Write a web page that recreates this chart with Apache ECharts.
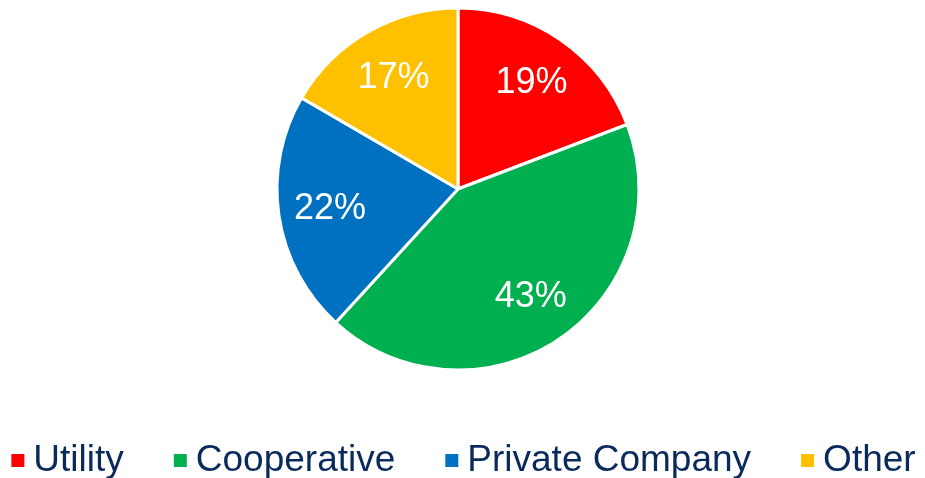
<!DOCTYPE html>
<html>
<head>
<meta charset="utf-8">
<script src="https://cdn.jsdelivr.net/npm/echarts@6/dist/echarts.min.js"></script>
<style>
  html, body { margin: 0; padding: 0; background: #fff; }
  #chart { width: 925px; height: 478px; }
</style>
</head>
<body>
<div id="chart"></div>
<script>
  // owner type shares (%)
  var categories = ['Utility', 'Cooperative', 'Private Company', 'Other'];
  var shares = [19.2, 42.6, 21.6, 16.6];
  var colors = ['#FF0000', '#00B050', '#0070C0', '#FFC000'];

  var chart = echarts.init(document.getElementById('chart'));

  var pieData = categories.map(function (name, i) {
    return { name: name, value: shares[i], itemStyle: { color: colors[i] } };
  });

  var option = {
    animation: false,
    legend: {
      data: categories,
      top: 437,
      left: 'center',
      icon: 'rect',
      itemWidth: 15,
      itemHeight: 15,
      itemGap: 48,
      textStyle: {
        fontFamily: 'Liberation Sans, Arial, sans-serif',
        fontSize: 37,
        color: '#0A2A5C',
        padding: [0, 0, 0, 3]
      }
    },
    series: [
      {
        // real pie slices
        type: 'pie',
        center: [458, 189],
        radius: [0, 181],
        startAngle: 90,
        clockwise: true,
        data: pieData,
        itemStyle: { borderColor: '#fff', borderWidth: 3 },
        label: { show: false },
        labelLine: { show: false },
        emphasis: { disabled: true }
      },
      {
        // transparent ring, only to place the % labels further out
        type: 'pie',
        center: [458, 190],
        radius: [72, 181],
        startAngle: 90,
        clockwise: true,
        silent: true,
        data: categories.map(function (name, i) {
          return { name: name, value: shares[i] };
        }),
        itemStyle: { color: 'rgba(0,0,0,0)', borderWidth: 0 },
        label: {
          show: true,
          position: 'inside',
          color: '#fff',
          fontFamily: 'Liberation Sans, Arial, sans-serif',
          fontSize: 36,
          formatter: function (p) { return Math.round(p.percent) + '%'; }
        },
        labelLine: { show: false },
        emphasis: { disabled: true }
      }
    ]
  };

  chart.setOption(option);
</script>
</body>
</html>
